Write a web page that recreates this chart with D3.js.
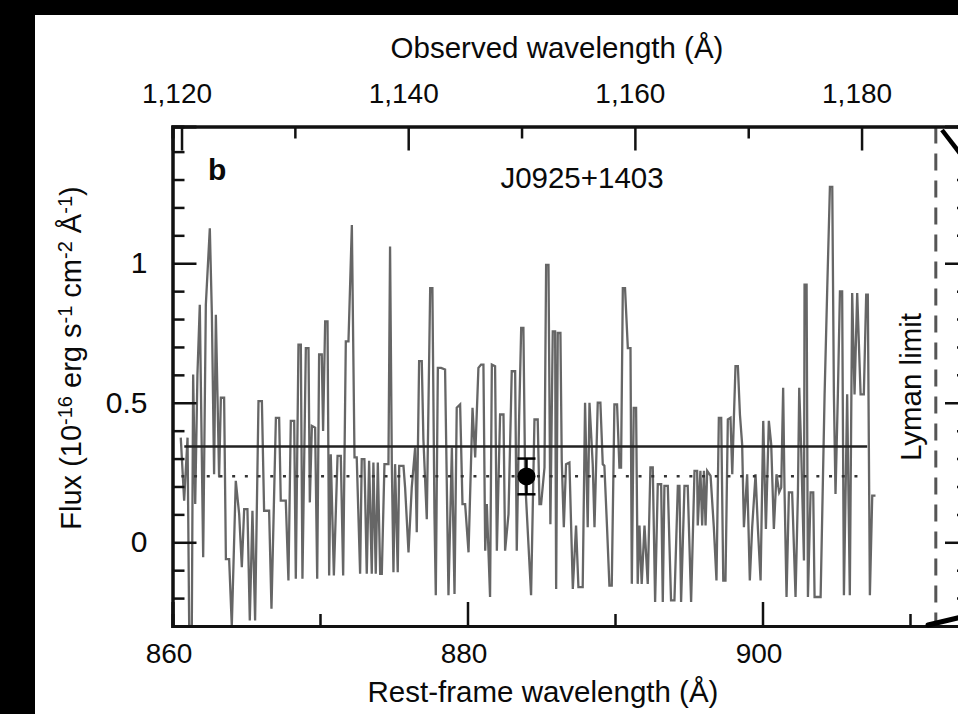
<!DOCTYPE html>
<html>
<head>
<meta charset="utf-8">
<script src="https://cdn.jsdelivr.net/npm/d3@7"></script>
<style>
  body { margin: 0; background: #000; }
  svg { display: block; }
  text { font-family: "Liberation Sans", Arial, sans-serif; fill: #0a0a0a; }
</style>
</head>
<body>
<svg id="chart" width="958" height="714"></svg>
<script>
// rest-frame wavelength (A) of each spectrum vertex
const restWave = [
  860.56, 860.79, 861.02, 861.13, 861.31, 861.40, 861.54, 861.69, 861.85, 862.08,
  862.26, 862.53, 862.67, 862.82, 862.94, 863.16, 863.28, 863.50, 863.62, 863.84,
  864.02, 864.29, 864.52, 864.70, 864.86, 865.08, 865.24, 865.42, 865.60, 865.83,
  866.06, 866.21, 866.55, 866.71, 867.01, 867.23, 867.34, 867.68, 867.86, 868.02,
  868.25, 868.36, 868.54, 868.70, 868.81, 869.04, 869.22, 869.31, 869.45, 869.67,
  869.81, 869.94, 870.12, 870.21, 870.35, 870.51, 870.62, 870.73, 870.94, 871.19,
  871.41, 871.57, 871.75, 871.93,
  872.16, 872.34, 872.49, 872.72, 872.83, 873.01, 873.17, 873.33, 873.51, 873.62,
  873.78, 873.92, 874.08, 874.19, 874.37, 874.64, 874.75, 874.87, 874.98, 875.09,
  875.27, 875.37, 875.66, 875.77, 876.00, 876.22, 876.45, 876.56, 876.72, 876.90,
  877.01, 877.24, 877.47, 877.62, 877.76, 877.85, 877.99, 878.21, 878.48, 878.71,
  878.94, 879.12, 879.27, 879.50, 879.66, 879.84, 880.07, 880.34, 880.52, 880.74,
  880.92, 881.08, 881.20, 881.31, 881.53, 881.65, 881.87, 881.99, 882.21, 882.44,
  882.55, 882.78, 883.00, 883.23, 883.34, 883.50, 883.64, 883.79, 883.91,
  884.31, 884.54, 884.76, 884.88, 884.99, 885.22, 885.33, 885.49, 885.62, 885.78,
  885.94, 886.01, 886.12, 886.30, 886.39, 886.53, 886.68, 886.91, 887.14, 887.36,
  887.52, 887.81, 887.97, 888.15, 888.27, 888.49, 888.61, 888.83, 889.01, 889.17,
  889.28, 889.46, 889.62, 889.78, 889.96, 890.14, 890.30, 890.41, 890.53, 890.68,
  890.87, 891.05, 891.14, 891.27, 891.43, 891.54, 891.66, 891.81, 892.00, 892.22,
  892.40, 892.56, 892.72, 892.90, 893.13, 893.24, 893.35, 893.58, 893.80, 894.03,
  894.26, 894.37, 894.48, 894.71, 894.93, 895.16, 895.39, 895.57, 895.61, 895.79,
  895.91, 896.03, 896.14, 896.25, 896.48, 896.70, 896.88, 897.04, 897.20, 897.34,
  897.49, 897.65, 897.83, 897.95, 898.06, 898.17, 898.33, 898.47, 898.62, 898.74,
  898.96, 899.14, 899.30, 899.53, 899.69, 899.87, 900.05, 900.23, 900.43, 900.59,
  900.77, 900.95, 901.13, 901.27, 901.40, 901.49, 901.63, 901.79, 902.01, 902.24,
  902.40, 902.49, 902.62, 902.81, 902.85, 902.99, 903.08, 903.26, 903.44, 903.53,
  903.94, 904.21, 904.39, 904.57, 904.73, 904.84, 904.95, 905.11, 905.25, 905.40,
  905.52, 905.74, 905.92, 906.08, 906.24, 906.42, 906.65, 906.87, 907.03, 907.14,
  907.28, 907.44, 907.66
];
// flux (1e-16 erg/s/cm2/A) at each vertex
const flux = [
  0.375, 0.149, 0.375, -0.30, -0.30, 0.601, 0.137, 0.601, 0.851, -0.054,
  0.851, 1.125, 0.815, 0.244, 0.815, 0.232, 0.518, 0.518, -0.060, -0.060,
  -0.30, 0.220, 0.101, -0.089, 0.119, 0.119, -0.280, 0.113, -0.280, 0.506,
  0.506, 0.113, 0.113, -0.238, 0.446, 0.446, 0.149, 0.149, -0.137, 0.435,
  0.435, -0.131, 0.708, 0.708, -0.131, 0.696, 0.696, 0.143, 0.417, 0.411,
  -0.131, 0.673, 0.673, 0.399, 0.792, 0.792, -0.119, 0.315, -0.119, 0.310,
  0.310, -0.119, 0.720, 0.720,
  1.137, 0.304, 0.304, -0.113, 0.298, 0.298, -0.113, 0.292, -0.113, 0.286,
  -0.113, 0.286, -0.113, -0.113, 0.280, 0.280, 1.060, 0.280, -0.107, 0.280,
  -0.107, 0.274, 0.274, 0.196, -0.036, 0.196, 0.339, 0.036, 0.649, 0.649,
  0.369, 0.083, 0.911, 0.911, 0.101, -0.190, 0.625, 0.625, 0.619, -0.190,
  0.339, -0.185, 0.482, 0.494, 0.137, 0.137, -0.036, 0.482, 0.304, 0.625,
  0.637, 0.637, -0.030, 0.137, -0.196, 0.637, 0.631, -0.030, 0.458, 0.458,
  -0.030, 0.101, 0.613, 0.613, -0.030, 0.446, 0.768, 0.768, 0.220,
  -0.190, 0.440, 0.440, 0.137, 0.137, 0.268, 0.994, 0.994, 0.065, 0.756,
  0.756, -0.167, 0.750, 0.750, 0.292, 0.054, 0.280, 0.286, -0.167, 0.060,
  -0.161, -0.161, 0.500, 0.054, 0.500, 0.280, 0.054, 0.500, 0.500, 0.280,
  0.274, 0.054, -0.155, -0.155, 0.494, 0.494, 0.268, 0.268, 0.911, 0.911,
  0.696, 0.696, -0.149, 0.482, 0.482, -0.149, 0.060, -0.149, 0.060, -0.149,
  0.268, 0.268, -0.214, 0.208, 0.208, -0.214, 0.202, 0.202, -0.208, -0.208,
  0.202, 0.202, -0.214, 0.202, 0.202, -0.214, 0.256, 0.256, 0.060, 0.256,
  0.060, 0.256, 0.060, 0.256, 0.238, 0.054, -0.137, 0.446, 0.446, -0.137,
  -0.137, 0.440, 0.446, 0.244, 0.446, 0.631, 0.631, 0.458, 0.351, 0.054,
  0.244, -0.137, 0.054, 0.244, 0.048, -0.137, 0.435, 0.048, 0.435, 0.351,
  0.048, 0.244, 0.179, 0.196, 0.554, 0.196, -0.196, 0.179, 0.179, -0.196,
  0.173, 0.554, 0.339, -0.065, 0.923, 0.923, -0.196, 0.179, 0.179, -0.196,
  -0.196, 0.530, 0.911, 1.274, 1.274, 0.530, 0.173, 0.530, 0.899, 0.899,
  -0.190, 0.530, -0.190, 0.893, 0.530, 0.893, 0.530, 0.530, 0.887, 0.887,
  -0.190, 0.167, 0.167
];

// mean levels and stacked point
const meanFlux = { value: 0.343, from: 860.8, to: 907.1 };
const medianFlux = { value: 0.237, from: 860.6, to: 906.6 };
const stackPoint = { wave: 884.0, value: 0.236, err: 0.064 };
const lymanLimit = 911.75;
const redshift = 0.3014;

const restMajor = [860, 880, 900];
const restMinor = [870, 890, 910];
const obsMajor = [1120, 1140, 1160, 1180];
const obsMinor = [1130, 1150, 1170];
const fluxMajor = [0, 0.5, 1];
const fluxMinor = [-0.3, -0.2, -0.1, 0.1, 0.2, 0.3, 0.4, 0.6, 0.7, 0.8, 0.9, 1.1, 1.2, 1.3, 1.4];

const svg = d3.select('#chart');
const W = 958, H = 714;
const pLeft = 172.5, pRight = 969, pTop = 126.5, pBottom = 626;

// black page with white figure panel
svg.append('rect').attr('width', W).attr('height', H).attr('fill', '#000');
svg.append('rect').attr('x', 35).attr('y', 15).attr('width', W - 35).attr('height', H - 15).attr('fill', '#fff');

const x = d3.scaleLinear().domain([860, 914]).range([pLeft, pRight]);
const xObs = d3.scaleLinear().domain([860 * (1 + redshift), 914 * (1 + redshift)]).range([pLeft, pRight]);
const y = d3.scaleLinear().domain([-0.3, 1.49]).range([pBottom, pTop]);

svg.append('clipPath').attr('id', 'plotclip')
  .append('rect').attr('x', pLeft).attr('y', pTop).attr('width', pRight - pLeft).attr('height', pBottom - pTop);

const plot = svg.append('g').attr('clip-path', 'url(#plotclip)');

// spectrum
const spec = restWave.map((w, i) => ({ w: w, f: flux[i] }));
plot.append('path')
  .datum(spec)
  .attr('fill', 'none')
  .attr('stroke', '#666')
  .attr('stroke-width', 2.3)
  .attr('stroke-linejoin', 'miter')
  .attr('d', d3.line().x(d => x(d.w)).y(d => y(d.f)));

// mean (solid) and median (dotted) levels
plot.append('line')
  .attr('x1', x(meanFlux.from)).attr('x2', x(meanFlux.to))
  .attr('y1', y(meanFlux.value)).attr('y2', y(meanFlux.value))
  .attr('stroke', '#222').attr('stroke-width', 2.4);
plot.append('line')
  .attr('x1', x(medianFlux.from)).attr('x2', x(medianFlux.to))
  .attr('y1', y(medianFlux.value)).attr('y2', y(medianFlux.value))
  .attr('stroke', '#333').attr('stroke-width', 2.5)
  .attr('stroke-dasharray', '3,9.7');

// stacked flux point with error bar
const px = x(stackPoint.wave);
const eb = plot.append('g').attr('stroke', '#000').attr('stroke-width', 2.5);
eb.append('line').attr('x1', px).attr('x2', px)
  .attr('y1', y(stackPoint.value + stackPoint.err)).attr('y2', y(stackPoint.value - stackPoint.err));
[stackPoint.value + stackPoint.err, stackPoint.value - stackPoint.err].forEach(v => {
  eb.append('line').attr('x1', px - 9).attr('x2', px + 9).attr('y1', y(v)).attr('y2', y(v));
});
plot.append('circle').attr('cx', px).attr('cy', y(stackPoint.value)).attr('r', 9).attr('fill', '#000');

// Lyman limit
plot.append('line')
  .attr('x1', x(lymanLimit)).attr('x2', x(lymanLimit))
  .attr('y1', pTop).attr('y2', pBottom)
  .attr('stroke', '#555').attr('stroke-width', 3)
  .attr('stroke-dasharray', '17,10');

// axes: ticks point inward
function styleAxis(g) {
  g.select('.domain').attr('stroke', '#111').attr('stroke-width', 3);
  g.selectAll('.tick line').attr('stroke', '#111').attr('stroke-width', 2.5);
  g.selectAll('.tick text').attr('font-size', 28).attr('fill', '#0a0a0a');
}

// left
svg.append('g').attr('transform', `translate(${pLeft},0)`)
  .call(d3.axisLeft(y).tickValues(fluxMinor).tickSize(-12).tickFormat(''))
  .call(styleAxis);
svg.append('g').attr('transform', `translate(${pLeft},0)`)
  .call(d3.axisLeft(y).tickValues(fluxMajor).tickSize(-24).tickPadding(25).tickFormat(d3.format('')))
  .call(styleAxis)
  .call(g => g.selectAll('.tick text').attr('font-size', 30));

// right (off canvas edge, only ticks visible)
svg.append('g').attr('transform', `translate(${pRight},0)`)
  .call(d3.axisRight(y).tickValues(fluxMinor).tickSize(-12).tickFormat(''))
  .call(styleAxis);
svg.append('g').attr('transform', `translate(${pRight},0)`)
  .call(d3.axisRight(y).tickValues(fluxMajor).tickSize(-24).tickFormat(''))
  .call(styleAxis);

// bottom: rest frame
svg.append('g').attr('transform', `translate(0,${pBottom})`)
  .call(d3.axisBottom(x).tickValues(restMinor).tickSize(-12).tickFormat(''))
  .call(styleAxis);
svg.append('g').attr('transform', `translate(0,${pBottom})`)
  .call(d3.axisBottom(x).tickValues(restMajor).tickSize(-24).tickPadding(17).tickFormat(d3.format('')))
  .call(styleAxis)
  .call(g => g.selectAll('.tick text').attr('dx', -4));

// top: observed frame
svg.append('g').attr('transform', `translate(0,${pTop})`)
  .call(d3.axisTop(xObs).tickValues(obsMinor).tickSize(-12).tickFormat(''))
  .call(styleAxis);
svg.append('g').attr('transform', `translate(0,${pTop})`)
  .call(d3.axisTop(xObs).tickValues(obsMajor).tickSize(-24).tickPadding(24).tickFormat(d3.format(',')))
  .call(styleAxis)
  .call(g => g.selectAll('.tick text').attr('dx', -5));

// connector strokes at the right edge
svg.append('line').attr('x1', 942).attr('y1', 130).attr('x2', 962).attr('y2', 156)
  .attr('stroke', '#000').attr('stroke-width', 4.5);
svg.append('line').attr('x1', 928).attr('y1', 625).attr('x2', 962).attr('y2', 617)
  .attr('stroke', '#000').attr('stroke-width', 5).attr('stroke-linecap', 'round');

// labels
svg.append('text').attr('x', 557).attr('y', 58).attr('text-anchor', 'middle')
  .attr('font-size', 29.5).text('Observed wavelength (Å)');
svg.append('text').attr('x', 543).attr('y', 702).attr('text-anchor', 'middle')
  .attr('font-size', 29.5).text('Rest-frame wavelength (Å)');

const yl = svg.append('text')
  .attr('transform', 'translate(81,358) rotate(-90)')
  .attr('text-anchor', 'middle').attr('font-size', 29);
yl.append('tspan').text('Flux (10');
yl.append('tspan').attr('font-size', 20).attr('baseline-shift', '45%').text('-16');
yl.append('tspan').text(' erg s');
yl.append('tspan').attr('font-size', 20).attr('baseline-shift', '45%').text('-1');
yl.append('tspan').text(' cm');
yl.append('tspan').attr('font-size', 20).attr('baseline-shift', '45%').text('-2');
yl.append('tspan').text(' Å');
yl.append('tspan').attr('font-size', 20).attr('baseline-shift', '45%').text('-1');
yl.append('tspan').text(')');

svg.append('text').attr('x', 208).attr('y', 180).attr('font-size', 30)
  .attr('font-weight', 'bold').text('b');
svg.append('text').attr('x', 582).attr('y', 188).attr('text-anchor', 'middle')
  .attr('font-size', 29.5).text('J0925+1403');

svg.append('text')
  .attr('transform', `translate(921,387) rotate(-90)`)
  .attr('text-anchor', 'middle').attr('font-size', 29.5).text('Lyman limit');
</script>
</body>
</html>
